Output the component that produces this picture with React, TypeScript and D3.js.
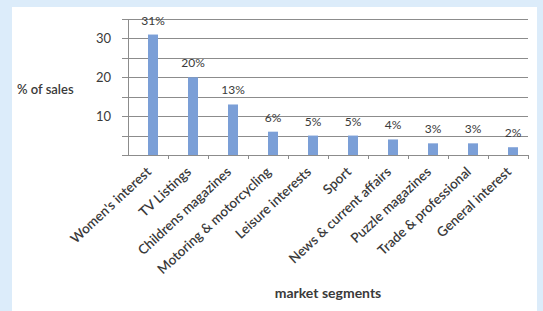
import * as d3 from "d3";
import { useEffect, useRef } from "react";

const segments = [
    "Women's interest",
    "TV Listings",
    "Childrens magazines",
    "Motoring & motorcycling",
    "Leisure interests",
    "Sport",
    "News & current affairs",
    "Puzzle magazines",
    "Trade & professional",
    "General interest",
];
const sales = [31, 20, 13, 6, 5, 5, 4, 3, 3, 2];
const yTicks = [10, 20, 30];
const gridValues = [5, 10, 15, 20, 25, 30, 35];

export default function App() {
    const svgRef = useRef<SVGSVGElement | null>(null);

    useEffect(() => {
        if (!svgRef.current) return;
        const svg = d3.select(svgRef.current);
        svg.selectAll("*").remove();

        const totalW = 543;
        const totalH = 311;
        const left = 128;
        const right = 528;
        const top = 19;
        const bottom = 155;
        const font = "Lato, 'Open Sans', sans-serif";
        const textColor = "#3a3a3a";

        svg.attr("width", totalW).attr("height", totalH);

        svg.append("rect")
            .attr("width", totalW)
            .attr("height", totalH)
            .attr("fill", "#dcecfa");
        svg.append("rect")
            .attr("x", 12)
            .attr("y", 7)
            .attr("width", 525)
            .attr("height", totalH - 7)
            .attr("fill", "#ffffff");

        const x = d3.scaleBand<string>().domain(segments).range([left, right]);
        const y = d3.scaleLinear().domain([0, 35]).range([bottom, top]);
        const barW = 10;
        const barShift = 5;

        // gridlines
        svg.append("g")
            .selectAll("line")
            .data(gridValues)
            .join("line")
            .attr("x1", left - 6)
            .attr("x2", right)
            .attr("y1", (d) => Math.round(y(d)) + 0.5)
            .attr("y2", (d) => Math.round(y(d)) + 0.5)
            .attr("stroke", "#8c8c8c")
            .attr("stroke-width", 1);

        // bars
        svg.append("g")
            .selectAll("rect")
            .data(sales)
            .join("rect")
            .attr("x", (d, i) => x(segments[i])! + x.bandwidth() / 2 - barW / 2 + barShift)
            .attr("y", (d) => y(d))
            .attr("width", barW)
            .attr("height", (d) => y(0) - y(d))
            .attr("fill", "#7b9fd7");

        // value labels
        svg.append("g")
            .selectAll("text")
            .data(sales)
            .join("text")
            .attr("x", (d, i) => x(segments[i])! + x.bandwidth() / 2 + barShift)
            .attr("y", (d) => y(d) - 10)
            .attr("text-anchor", "middle")
            .attr("font-family", font)
            .attr("font-size", 12)
            .attr("fill", textColor)
            .text((d) => `${d}%`);

        // axes
        svg.append("line")
            .attr("x1", left + 0.5)
            .attr("x2", left + 0.5)
            .attr("y1", top)
            .attr("y2", bottom)
            .attr("stroke", "#8c8c8c");
        svg.append("line")
            .attr("x1", left - 6)
            .attr("x2", right)
            .attr("y1", bottom + 0.5)
            .attr("y2", bottom + 0.5)
            .attr("stroke", "#8c8c8c");

        svg.append("g")
            .selectAll("line")
            .data(segments)
            .join("line")
            .attr("x1", (d) => Math.round(x(d)! + x.bandwidth()) + 0.5)
            .attr("x2", (d) => Math.round(x(d)! + x.bandwidth()) + 0.5)
            .attr("y1", bottom)
            .attr("y2", bottom + 4)
            .attr("stroke", "#8c8c8c");

        svg.append("g")
            .selectAll("text")
            .data(yTicks)
            .join("text")
            .attr("x", left - 17)
            .attr("y", (d) => y(d))
            .attr("dy", "0.35em")
            .attr("text-anchor", "end")
            .attr("font-family", font)
            .attr("font-size", 13)
            .attr("fill", textColor)
            .text((d) => d);

        svg.append("text")
            .attr("x", 17)
            .attr("y", y(20) + 12)
            .attr("dy", "0.35em")
            .attr("font-family", font)
            .attr("font-size", 13)
            .attr("font-weight", 600)
            .attr("fill", textColor)
            .text("% of sales");

        // category labels
        svg.append("g")
            .selectAll("text")
            .data(segments)
            .join("text")
            .attr("transform", (d) => `translate(${x(d)! + x.bandwidth() / 2 + 4},${bottom + 18}) rotate(-43)`)
            .attr("text-anchor", "end")
            .attr("font-family", font)
            .attr("font-size", 13.5)
            .attr("font-weight", 600)
            .attr("fill", textColor)
            .text((d) => d);

        svg.append("text")
            .attr("x", (left + right) / 2)
            .attr("y", 298)
            .attr("text-anchor", "middle")
            .attr("font-family", font)
            .attr("font-size", 14)
            .attr("font-weight", 700)
            .attr("fill", textColor)
            .text("market segments");
    }, []);

    return <svg ref={svgRef} style={{ position: "absolute", left: 0, top: 0 }} />;
}
